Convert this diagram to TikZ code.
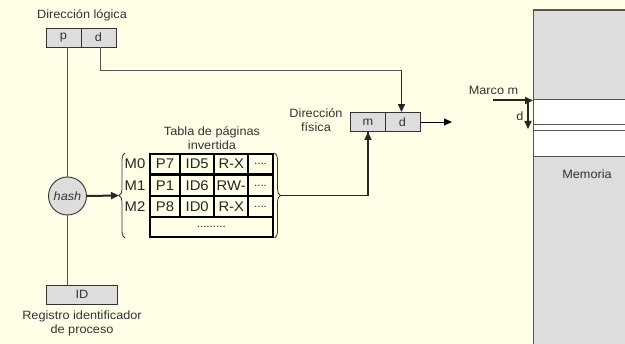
\documentclass[tikz,border=0pt]{standalone}
\usepackage{fontspec}
\setmainfont{Liberation Sans}[FakeStretch=1.06]
\usetikzlibrary{arrows.meta,decorations.pathreplacing}
\definecolor{bg}{HTML}{FFFFE8}
\definecolor{cellgray}{HTML}{DDDDDD}
\definecolor{txt}{HTML}{333333}
\definecolor{edge}{HTML}{555555}
\tikzset{
  cell/.style={draw=txt, fill=cellgray, line width=0.9pt, minimum width=35pt, minimum height=19pt, inner sep=0pt, text=txt, font=\fontsize{12}{14}\selectfont},
  tcell/.style={draw=black, line width=1.8pt, minimum height=20.5pt, inner sep=0pt, text=black!85, font=\fontsize{14}{16}\selectfont},
  lbl/.style={text=txt, font=\fontsize{12}{14}\selectfont, align=center, inner sep=0pt},
  tip/.style={-{Triangle[length=8pt,width=7pt]}},
  thinline/.style={draw=edge, line width=0.9pt},
  boldline/.style={draw=black!85, line width=1.5pt},
}
\begin{document}
\begin{tikzpicture}[x=1pt,y=-1pt]
\useasboundingbox (0,0) rectangle (625,344);
\fill[bg] (0,0) rectangle (625,344);
\clip (0,0) rectangle (625,344);
% memory
\draw[fill=cellgray, draw=edge, line width=1.2pt] (533.5,10) rectangle (640,360);
\draw[fill=white, draw=edge, line width=1pt] (533.5,100) rectangle (640,157);
\draw[edge, line width=1pt] (533.5,124.5) -- (640,124.5);
\draw[edge, line width=1pt] (533.5,130.5) -- (640,130.5);
\node[lbl] (mem) at (587,174) {Memoria};
% logical address
\node[lbl] (dl) at (82,15) {Dirección lógica};
\node[cell] (p) at (63.5,37.5) {p};
\node[cell] (d) at (98.5,37.5) {d};
% physical address
\node[lbl] (df) at (316,120) {Dirección\\física};
\node[cell] (m) at (368,122) {m};
\node[cell] (d2) at (402.5,122) {d};
% hash
\node[circle, draw=txt, fill=cellgray, line width=0.9pt, minimum size=38pt, inner sep=0pt, text=txt, font=\fontsize{12}{14}\selectfont\itshape] (hash) at (67.5,196) {hash};
% ID register
\node[cell, minimum width=70.5pt] (id) at (82,294.5) {ID};
\node[lbl] (reg) at (82,323) {Registro identificador\\de proceso};
% table
\node[lbl] (tt) at (212,138) {Tabla de páginas\\invertida};
\foreach \r/\y/\a/\b/\c in {0/164/P7/ID5/R-X, 1/185.5/P1/ID6/RW-, 2/206.5/P8/ID0/R-X}{
  \node[tcell, minimum width=30pt] (p\r) at (165,\y) {\a};
  \node[tcell, minimum width=34.3pt] (i\r) at (197.2,\y) {\b};
  \node[tcell, minimum width=34pt] (r\r) at (231.3,\y) {\c};
  \node[tcell, minimum width=24.4pt, font=\fontsize{11}{13}\selectfont] (x\r) at (260.5,\y) {....};
  \node[lbl, font=\fontsize{14}{16}\selectfont, text=black!85] (M\r) at (135,\y) {M\r};
}
\node[tcell, minimum width=122.7pt, font=\fontsize{11}{13}\selectfont] (last) at (211.35,227) {.........};
% braces
\coordinate (lb1) at (125,238);
\coordinate (lb2) at (125,153);
\coordinate (rb1) at (274.5,153);
\coordinate (rb2) at (274.5,238);
\draw[txt, line width=0.8pt, decorate, decoration={brace, amplitude=6pt}] (lb1) -- (lb2);
\draw[txt, line width=0.8pt, decorate, decoration={brace, amplitude=6pt}] (rb1) -- (rb2);
\coordinate (lbt) at (119,195.5);
\coordinate (rbt) at (280.5,195.5);
% connectors
\draw[thinline] (hash.north |- p.south) -- (hash.north);
\draw[thinline] (hash.south) -- (hash.south |- id.north);
\draw[thinline] ([xshift=1.5pt]d.south) |- (401.5,70.5) coordinate (cor);
\draw[boldline, tip] (cor) -- (cor |- d2.north);
\draw[boldline, line width=2pt, tip] (hash.east) -- (lbt);
\draw[boldline] (rbt) -| (m.south);
\draw[boldline, tip] (rbt -| m.south) -- (m.south);
\coordinate (outend) at (452,122);
\draw[thinline, draw=black, tip] (d2.east) -- (outend);
% marco
\node[lbl] (marco) at (493.5,90) {Marco m};
\coordinate (ma1) at (493,100.5);
\coordinate (ma2) at (533,100.5);
\draw[boldline, line width=2pt, tip] (ma1) -- (ma2);
\coordinate (da1) at (528,100.5);
\coordinate (da2) at (528,129);
\draw[boldline, tip] (da1) -- (da2);
\node[lbl] (dlab) at (520,116) {d};
\end{tikzpicture}
\end{document}
